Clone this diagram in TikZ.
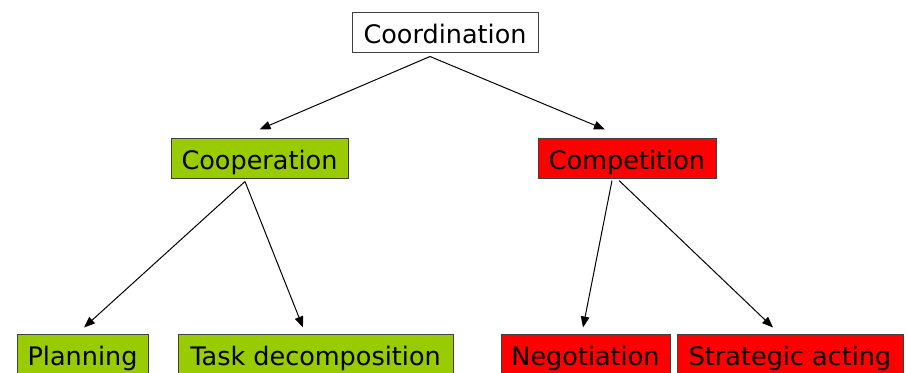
\documentclass[tikz,border=0pt]{standalone}
\usepackage{fontspec}
\setmainfont{DejaVu Sans}
\usetikzlibrary{arrows.meta}
\definecolor{boxgreen}{HTML}{99CC00}
\definecolor{boxred}{HTML}{FF0000}
\definecolor{boxline}{HTML}{404040}
\tikzset{
  box/.style={draw=boxline, line width=1pt, inner sep=0pt, minimum height=40pt,
    text height=24pt, text depth=2pt, font=\fontsize{25.5}{30}\selectfont, anchor=center},
  gbox/.style={box, fill=boxgreen},
  rbox/.style={box, fill=boxred},
  wbox/.style={box, fill=white},
  arr/.style={line width=1pt, -{Triangle[length=11pt,width=8.5pt]}}
}
\begin{document}
\begin{tikzpicture}[x=1pt,y=-1pt]
\useasboundingbox (0,0) rectangle (907,372);
\node[wbox, minimum width=186pt] (coord) at (445,32) {Coordination};
\node[gbox, minimum width=177pt] (coop) at (259.5,158) {Cooperation};
\node[rbox, minimum width=178pt] (comp) at (627,158) {Competition};
\node[gbox, minimum width=131pt] (plan) at (82.5,354) {Planning};
\node[gbox, minimum width=275pt] (task) at (315.5,354) {Task decomposition};
\node[rbox, minimum width=169pt] (neg) at (585.5,354) {Negotiation};
\node[rbox, minimum width=226pt] (strat) at (790,354) {Strategic acting};

\coordinate (s1) at ([xshift=-15pt,yshift=-4pt]coord.south);
\coordinate (s2) at ([xshift=-14.5pt,yshift=-3pt]coop.south);
\coordinate (s3) at ([xshift=-15pt,yshift=-2pt]comp.south);
\coordinate (s4) at ([xshift=-8pt,yshift=-2pt]comp.south);

\draw[arr] (s1) -- ([yshift=8pt]coop.north);
\draw[arr] (s1) -- ([xshift=-22pt,yshift=8pt]comp.north);
\draw[arr] (s2) -- ([xshift=1.5pt,yshift=6pt]plan.north);
\draw[arr] (s2) -- ([xshift=-12.5pt,yshift=6pt]task.north);
\draw[arr] (s3) -- ([xshift=-2.5pt,yshift=6pt]neg.north);
\draw[arr] (s4) -- ([xshift=-17pt,yshift=6pt]strat.north);
\end{tikzpicture}
\end{document}
